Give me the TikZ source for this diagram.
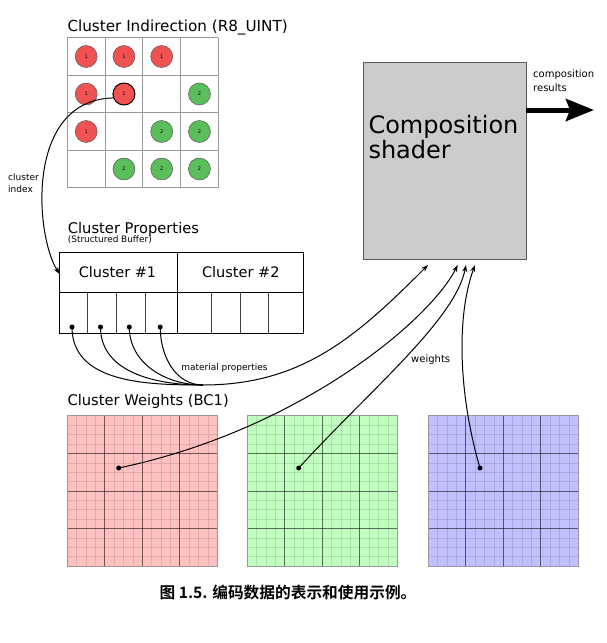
\documentclass[tikz,border=0pt]{standalone}
\usepackage{fontspec}
\setmainfont{DejaVu Sans}
\newfontfamily\cjk{Noto Sans CJK SC}[BoldFont={Noto Sans CJK SC Bold}]
\usetikzlibrary{arrows.meta}

\definecolor{cred}{RGB}{240,82,82}
\definecolor{cgreen}{RGB}{90,190,90}
\definecolor{wred}{RGB}{255,192,192}
\definecolor{wgreen}{RGB}{192,255,192}
\definecolor{wblue}{RGB}{192,192,255}
\definecolor{shgray}{RGB}{204,204,204}

\tikzset{
  title/.style={anchor=base west, inner sep=0pt, font=\fontsize{14.7}{17}\selectfont},
  small/.style={anchor=base west, inner sep=0pt, font=\fontsize{9}{11}\selectfont},
  cellc/.style={circle, draw=black!65, line width=0.5pt, minimum size=22pt, inner sep=0pt, font=\fontsize{5}{5}\selectfont},
  redc/.style={cellc, fill=cred},
  greenc/.style={cellc, fill=cgreen},
  dotn/.style={circle, fill=black, inner sep=0pt, minimum size=5pt},
  conn/.style={line width=1pt, -{Stealth[length=7pt,width=5pt]}},
  link/.style={line width=1pt},
  wbox/.style={minimum width=150, minimum height=150, inner sep=0pt, draw=none},
  minorl/.style={black, opacity=0.11, line width=0.7pt},
  majorl/.style={black, opacity=0.5, line width=0.8pt},
  borderl/.style={draw=black!40, line width=1.2pt},
}

\newcommand\wgrid[3]{%
  \node[wbox, fill=#2] (#3) at (#1+75, 491) {};
  \foreach \k in {1,...,15} {
    \draw[minorl] (#1+\k*9.375, 416) -- ++(0,150);
    \draw[minorl] (#1, 416+\k*9.375) -- ++(150,0);
  }
  \foreach \k in {1,2,3} {
    \draw[majorl] (#1+\k*37.5, 416) -- ++(0,150);
    \draw[majorl] (#1, 416+\k*37.5) -- ++(150,0);
  }
  \draw[borderl] (#3.north west) rectangle (#3.south east);
}

\begin{document}
\begin{tikzpicture}[x=1pt, y=-1pt]
\useasboundingbox[fill=white] (0,0) rectangle (607,643);

% ---------- Cluster Indirection ----------
\node[title, font=\fontsize{15.2}{17}\selectfont] (tind) at (67.3,31.7) {Cluster Indirection (R8\_UINT)};
\foreach \i in {0,...,4} {
  \draw[black!40, line width=0.7pt] (67.3+\i*37.75, 37.7) -- ++(0,150);
  \draw[black!40, line width=0.7pt] (67.3, 37.7+\i*37.5) -- ++(151,0);
}
\foreach \r/\c/\s/\d in {0/0/redc/1, 0/1/redc/1, 0/2/redc/1,
                         1/0/redc/1, 1/3/greenc/2,
                         2/0/redc/1, 2/2/greenc/2, 2/3/greenc/2,
                         3/1/greenc/2, 3/2/greenc/2, 3/3/greenc/2} {
  \node[\s] (c\r\c) at (86.2+\c*37.75, 56.5+\r*37.5) {\d};
}
\node[redc, draw=black, line width=1pt] (c11) at (86.2+37.75, 56.5+37.5) {1};

% ---------- cluster index ----------
\node[small] (lci1) at (8,180.5) {cluster};
\node[small] (lci2) at (8,192) {index};
\coordinate (cidxend) at (59.5,274);
\draw[conn] (c11.200) .. controls (25,100) and (35,235) .. (cidxend);

% ---------- Cluster Properties ----------
\node[title] (tprop) at (67.7,233) {Cluster Properties};
\node[anchor=base west, inner sep=0pt, font=\fontsize{8.9}{10}\selectfont] (tsb) at (67.7,242.5) {(Structured Buffer)};
\node[draw=black, line width=0.9pt, minimum width=244, minimum height=81, inner sep=0pt, anchor=north west] (tbl) at (59.3,252.3) {};
\draw[line width=0.9pt] (59.3,292.7) -- (303.3,292.7);
\draw[line width=0.9pt] (177.3,252.3) -- (177.3,333.3);
\foreach \xx in {87.3,116,145,211.3,240,268.7} {
  \draw[black!75, line width=0.6pt] (\xx,292.7) -- (\xx,333.3);
}
\node[inner sep=0pt, font=\fontsize{14.5}{16}\selectfont] (cl1) at (117.5,272.5) {Cluster \#1};
\node[inner sep=0pt, font=\fontsize{14.5}{16}\selectfont] (cl2) at (240.8,272.5) {Cluster \#2};

\node[dotn] (d1) at (72,327) {};
\node[dotn] (d2) at (100.5,327) {};
\node[dotn] (d3) at (129.3,327) {};
\node[dotn] (d4) at (160.2,327) {};
\coordinate (merge) at (203,385);
\foreach \d in {d1,d2,d3,d4} {
  \draw[link] (\d.center) to[out=-90, in=180] (merge);
}

% ---------- Composition shader ----------
\node[draw=black!65, line width=1pt, fill=shgray, minimum width=162.4, minimum height=197, inner sep=0pt, anchor=north west] (sh) at (363.3,62.3) {};
\node[anchor=base west, inner sep=0pt, font=\fontsize{24}{25}\selectfont] (sht1) at (368.3,133) {Composition};
\node[anchor=base west, inner sep=0pt, font=\fontsize{24}{25}\selectfont] (sht2) at (368.3,158) {shader};

\coordinate (resstart) at (525.7,110);
\coordinate (resend) at (594,110);
\draw[line width=5pt, -{Stealth[length=28pt,width=22pt,inset=4pt]}] (resstart) -- (resend);
\node[anchor=base west, inner sep=0pt, font=\fontsize{10}{12}\selectfont] (lcr1) at (533,77.5) {composition};
\node[anchor=base west, inner sep=0pt, font=\fontsize{10}{12}\selectfont] (lcr2) at (533,91) {results};

\coordinate (t1) at (428,265);
\coordinate (t2) at (457.7,265);
\coordinate (t3) at (466,265);
\coordinate (t4) at (475,265);

\draw[conn] (merge) to[out=0, in=-135] (t1);
\node[inner sep=0pt, font=\fontsize{9}{11}\selectfont] (lmp) at (224.5,368) {material properties};

% ---------- Cluster Weights ----------
\node[title] (tw) at (67.3,405) {Cluster Weights (BC1)};
\wgrid{67.3}{wred}{wr}
\wgrid{247.3}{wgreen}{wg}
\wgrid{428.3}{wblue}{wb}

\node[dotn] (dr) at (118.7,468) {};
\node[dotn] (dg) at (298.7,468) {};
\node[dotn] (db) at (480,468) {};

\draw[conn] (dr.center) .. controls (300,430) and (430,320) .. (t2);
\draw[conn] (dg.center) .. controls (370,390) and (455,320) .. (t3);
\draw[conn] (db.center) .. controls (460,400) and (455,320) .. (t4);
\node[inner sep=0pt, font=\fontsize{10}{12}\selectfont] (lw) at (430.7,360) {weights};

% ---------- caption ----------
\node[inner sep=0pt, font=\cjk\bfseries\fontsize{15.7}{18}\selectfont] (cap) at (288,593) {图 1.5. 编码数据的表示和使用示例。};
\end{tikzpicture}
\end{document}
